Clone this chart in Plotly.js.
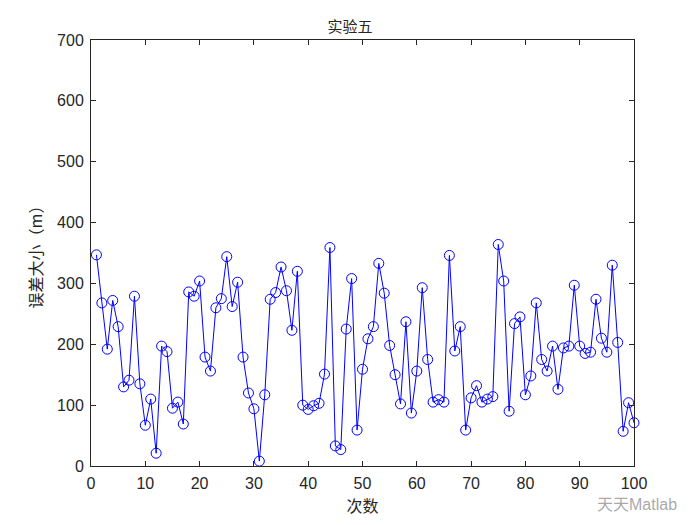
<!DOCTYPE html>
<html>
<head>
<meta charset="utf-8">
<script src="https://cdn.plot.ly/plotly-3.0.1.min.js"></script>
<style>html,body{margin:0;padding:0;background:#fff;}#chart{width:700px;height:525px;}</style>
</head>
<body>
<div id="chart"></div>
<script>
var trialIndex = [];
for (var k = 1; k <= 100; k++) trialIndex.push(k);
var errorValues = [
  347, 268, 192, 272, 229, 130, 141, 279, 135, 67,
  110, 21, 197, 188, 95, 105, 69, 286, 279, 304,
  179, 156, 260, 275, 344, 262, 302, 179, 120, 94,
  8, 117, 274, 285, 327, 288, 223, 320, 100, 93,
  99, 103, 151, 359, 33, 27, 225, 308, 59, 159,
  209, 229, 333, 284, 198, 150, 102, 237, 87, 156,
  293, 175, 105, 109, 105, 346, 189, 229, 59, 112,
  132, 105, 110, 114, 364, 304, 90, 234, 245, 117,
  148, 268, 175, 156, 197, 126, 194, 197, 297, 197,
  185, 187, 274, 210, 187, 330, 203, 57, 104, 71
];
var chartTitle = '实验五';
var xLabel = '次数';
var yLabel = '误差大小（m）';
var watermark = '天天Matlab';

var axisCommon = {
  showgrid: false,
  zeroline: false,
  showline: true,
  linecolor: '#262626',
  linewidth: 1,
  mirror: 'ticks',
  ticks: 'inside',
  ticklen: 5,
  tickcolor: '#262626',
  tickfont: {family: 'Liberation Sans, Arial, sans-serif', size: 16, color: '#262626'}
};

var trace = {
  x: trialIndex,
  y: errorValues,
  type: 'scatter',
  mode: 'lines+markers',
  line: {color: '#0000ff', width: 1},
  marker: {symbol: 'circle-open', size: 10, color: '#0000ff', line: {width: 1, color: '#0000ff'}},
  cliponaxis: false,
  hoverinfo: 'none'
};

var layout = {
  width: 700,
  height: 525,
  margin: {l: 91, r: 66, t: 40, b: 59},
  paper_bgcolor: '#ffffff',
  plot_bgcolor: '#ffffff',
  showlegend: false,
  title: {
    text: chartTitle,
    font: {family: 'Noto Sans CJK SC, sans-serif', size: 15, color: '#262626'},
    x: 0.5, xanchor: 'center', y: 1, yref: 'paper', yanchor: 'bottom', pad: {b: 8}
  },
  xaxis: Object.assign({}, axisCommon, {
    range: [0, 100], dtick: 10, tick0: 0, ticklabelstandoff: 3,
    title: {text: xLabel, font: {family: 'Noto Sans CJK SC, sans-serif', size: 16, color: '#262626'}, standoff: 9}
  }),
  yaxis: Object.assign({}, axisCommon, {
    range: [0, 700], dtick: 100, tick0: 0, ticklabelstandoff: 3,
    title: {text: yLabel, font: {family: 'Noto Sans CJK SC, sans-serif', size: 16, color: '#262626'}, standoff: 10}
  }),
  annotations: [{
    text: watermark, xref: 'paper', yref: 'paper', x: 1.082, y: -0.09,
    xanchor: 'right', yanchor: 'middle', showarrow: false,
    font: {family: 'Liberation Sans, Noto Sans CJK SC, sans-serif', size: 16, color: 'rgba(140,140,140,0.75)'}
  }]
};

Plotly.newPlot('chart', [trace], layout, {staticPlot: true, displayModeBar: false});
</script>
</body>
</html>
